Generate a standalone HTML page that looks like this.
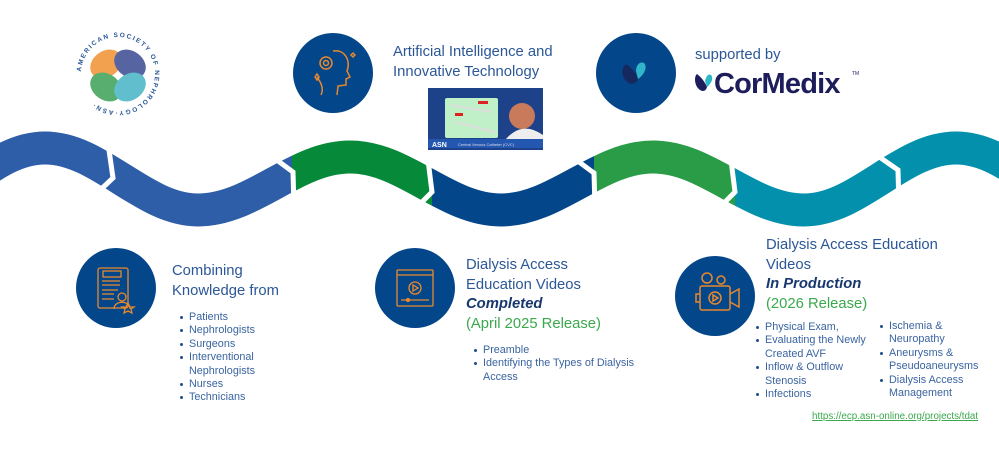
<!DOCTYPE html>
<html><head><meta charset="utf-8"><style>
body{margin:0;background:#fff;width:999px;height:451px;overflow:hidden;position:relative;font-family:"Liberation Sans",sans-serif;color:#2b5797}
.t{position:absolute;font-size:14.8px;line-height:19.5px;color:#2b5797;white-space:nowrap}
ul{position:absolute;margin:0;padding:0;list-style:none;font-size:10.8px;line-height:13.4px;color:#3a64a0}
li{position:relative;padding-left:9px;white-space:nowrap}
li:before{content:"";position:absolute;left:0;top:5px;width:3px;height:3px;border-radius:50%;background:#1f4e8c}
.c{position:absolute;width:80px;height:80px;border-radius:50%;background:#03468a}
.b{font-weight:bold;font-style:italic;color:#17386e}
.g{color:#3aa84c}
</style></head><body>
<svg width="999" height="451" style="position:absolute;left:0;top:0">
<defs>
<path id="w" d="M -100,210 C -45,210 -10,148 45,148 S 143,210 198,210 S 295,157 350,157 S 446,210 501,210 S 598,157 653,157 S 749,210 804,210 S 901,148 956,148 S 1050,210 1100,210" fill="none" stroke-width="33"/>
<clipPath id="c1"><rect x="0" y="0" width="292" height="451"/></clipPath>
<clipPath id="c2"><rect x="292" y="0" width="140" height="451"/></clipPath>
<clipPath id="c3"><rect x="432" y="0" width="162" height="451"/></clipPath>
<clipPath id="c4"><rect x="594" y="0" width="141" height="451"/></clipPath>
<clipPath id="c5"><rect x="735" y="0" width="264" height="451"/></clipPath>
<path id="circ" d="M 118,74 m -37,0 a 37,37 0 1,1 74,0 a 37,37 0 1,1 -74,0"/>
</defs>
<use href="#w" stroke="#2f5ea8" clip-path="url(#c1)"/>
<use href="#w" stroke="#068a3a" clip-path="url(#c2)"/>
<use href="#w" stroke="#03468a" clip-path="url(#c3)"/>
<use href="#w" stroke="#2a9c48" clip-path="url(#c4)"/>
<use href="#w" stroke="#0390ad" clip-path="url(#c5)"/>
<g fill="none" stroke="#fff" stroke-width="5" stroke-linejoin="miter">
<polyline points="109,150 113,178 96,194"/>
<polyline points="274,158 293,172 294,208"/>
<polyline points="428,160 432,192 416,208"/>
<polyline points="575,159 594,173 595,208"/>
<polyline points="731,160 735,192 719,208"/>
<polyline points="878,156 898,170 899,208"/>
</g>
<!-- ASN logo -->
<g opacity="0.8">
<ellipse cx="106" cy="64" rx="17" ry="13" fill="#f08a24" transform="rotate(-35 106 64)"/>
<ellipse cx="130" cy="64" rx="17" ry="13" fill="#2d3f8c" transform="rotate(35 130 64)"/>
<ellipse cx="106" cy="87" rx="17" ry="13" fill="#2f9a4a" transform="rotate(35 106 87)"/>
<ellipse cx="130" cy="87" rx="17" ry="13" fill="#3aaec0" transform="rotate(-35 130 87)"/>
</g>
<text font-size="6.5" font-weight="bold" fill="#2b5797" letter-spacing="1.6" font-family="Liberation Sans,sans-serif"><textPath href="#circ" startOffset="1%">AMERICAN SOCIETY OF NEPHROLOGY·ASN·</textPath></text>
<!-- video thumbnail -->
<rect x="428" y="88" width="115" height="62" fill="#1d4289"/>
<rect x="445" y="98" width="53" height="40" rx="2" fill="#bff0c8"/>
<line x1="450" y1="105" x2="492" y2="112" stroke="#ddd" stroke-width="2"/>
<line x1="455" y1="122" x2="495" y2="132" stroke="#ddd" stroke-width="2"/>
<rect x="478" y="101" width="10" height="3" fill="#d22"/><rect x="455" y="113" width="8" height="3" fill="#d22"/>
<circle cx="522" cy="116" r="13" fill="#c97a5a"/>
<path d="M505 140 Q522 120 543 135 L543 140Z" fill="#eee"/>
<rect x="428" y="139" width="115" height="9" fill="#2457b0"/>
<text x="432" y="147" font-size="7" font-weight="bold" fill="#fff">ASN</text>
<text x="458" y="146" font-size="4" fill="#dde">Central Venous Catheter (CVC)</text>
</svg>

<div class="c" style="left:293px;top:33px"></div>
<svg style="position:absolute;left:293px;top:33px" width="80" height="80" fill="none" stroke="#e8892e" stroke-width="1.5"><circle cx="33" cy="30" r="6"/><circle cx="33" cy="30" r="2.5"/><path d="M40 18 C52 16 58 28 54 38 L57 44 L53 46 L53 52 L45 53 L44 62 M24 44 C30 52 30 58 28 62"/><path d="M22 44 l2 -3 l2 3 l-2 3z"/><path d="M58 22 l2-2 l2 2 l-2 2z"/></svg>
<div class="c" style="left:596px;top:33px"></div>
<svg style="position:absolute;left:596px;top:33px" width="80" height="80"><path d="M32 32 C26 30 24 42 30 48 C34 52 40 52 42 46 C40 40 36 36 32 32Z" fill="#15295e"/><path d="M42 46 C48 42 52 34 48 30 C44 28 40 32 40 38Z" fill="#2fb6c8"/></svg>

<div class="t" style="left:393px;top:43px">Artificial Intelligence and<br>Innovative Technology</div>
<div class="t" style="left:695px;top:46px">supported by</div>
<svg style="position:absolute;left:694px;top:67px" width="175" height="32"><path d="M3 7 C0 9 0 19 6 23 C9 25 12 24 13 20 C11 15 7 10 3 7Z" fill="#1d1d5c"/><path d="M13 20 C17 17 20 11 17 8 C14 6 12 10 11 14Z" fill="#2fb6c8"/><text x="20" y="26" font-size="29" font-weight="bold" fill="#1d1d5c" font-family="Liberation Sans,sans-serif" letter-spacing="-0.8">CorMedix</text><text x="158" y="8" font-size="5" fill="#1d1d5c">TM</text></svg>

<div class="c" style="left:76px;top:248px"></div>
<svg style="position:absolute;left:76px;top:248px" width="80" height="80" fill="none" stroke="#e8892e" stroke-width="1.3"><rect x="22" y="20" width="30" height="40" rx="2"/><rect x="27" y="23" width="18" height="6"/><path d="M26 33h18M26 37h18M26 42h16M26 46h12M26 51h12"/><circle cx="46" cy="49" r="4"/><path d="M38 61 C38 52 54 52 54 61"/><path d="M52 55 l2 4 4 0-3 2 1 4-4-2-4 2 1-4-3-2 4 0z"/></svg>
<div class="t" style="left:172px;top:262px">Combining<br>Knowledge from</div>
<ul style="left:180px;top:311px"><li>Patients</li><li>Nephrologists</li><li>Surgeons</li><li>Interventional<br>Nephrologists</li><li>Nurses</li><li>Technicians</li></ul>

<div class="c" style="left:375px;top:248px"></div>
<svg style="position:absolute;left:375px;top:248px" width="80" height="80" fill="none" stroke="#e8892e" stroke-width="1.3"><rect x="22" y="22" width="36" height="36" rx="1"/><path d="M22 27h36"/><circle cx="40" cy="40" r="6"/><path d="M38 37v6l5-3z"/><path d="M26 52h28"/><circle cx="33" cy="52" r="1.5" fill="#e8892e"/></svg>
<div class="t" style="left:466px;top:256px">Dialysis Access<br>Education Videos<br><span class="b">Completed</span><br><span class="g">(April 2025 Release)</span></div>
<ul style="left:474px;top:344px"><li>Preamble</li><li>Identifying the Types of Dialysis<br>Access</li></ul>

<div class="c" style="left:675px;top:256px"></div>
<svg style="position:absolute;left:675px;top:256px" width="80" height="80" fill="none" stroke="#e8892e" stroke-width="1.5"><circle cx="32" cy="22" r="5"/><circle cx="46" cy="24" r="4"/><rect x="25" y="30" width="30" height="24" rx="2"/><circle cx="40" cy="42" r="6"/><path d="M38 39v6l5-3z"/><path d="M55 38l9-5v18l-9-5M25 38h-4v8h4"/></svg>
<div class="t" style="left:766px;top:236px">Dialysis Access Education<br>Videos<br><span class="b">In Production</span><br><span class="g">(2026 Release)</span></div>
<ul style="left:756px;top:321px"><li>Physical Exam,</li><li>Evaluating the Newly<br>Created AVF</li><li>Inflow &amp; Outflow<br>Stenosis</li><li>Infections</li></ul>
<ul style="left:880px;top:320px"><li>Ischemia &amp;<br>Neuropathy</li><li>Aneurysms &amp;<br>Pseudoaneurysms</li><li>Dialysis Access<br>Management</li></ul>
<div style="position:absolute;left:812px;top:411px;font-size:9.8px;color:#3aa84c;text-decoration:underline">https://ecp.asn-online.org/projects/tdat</div>
</body></html>
